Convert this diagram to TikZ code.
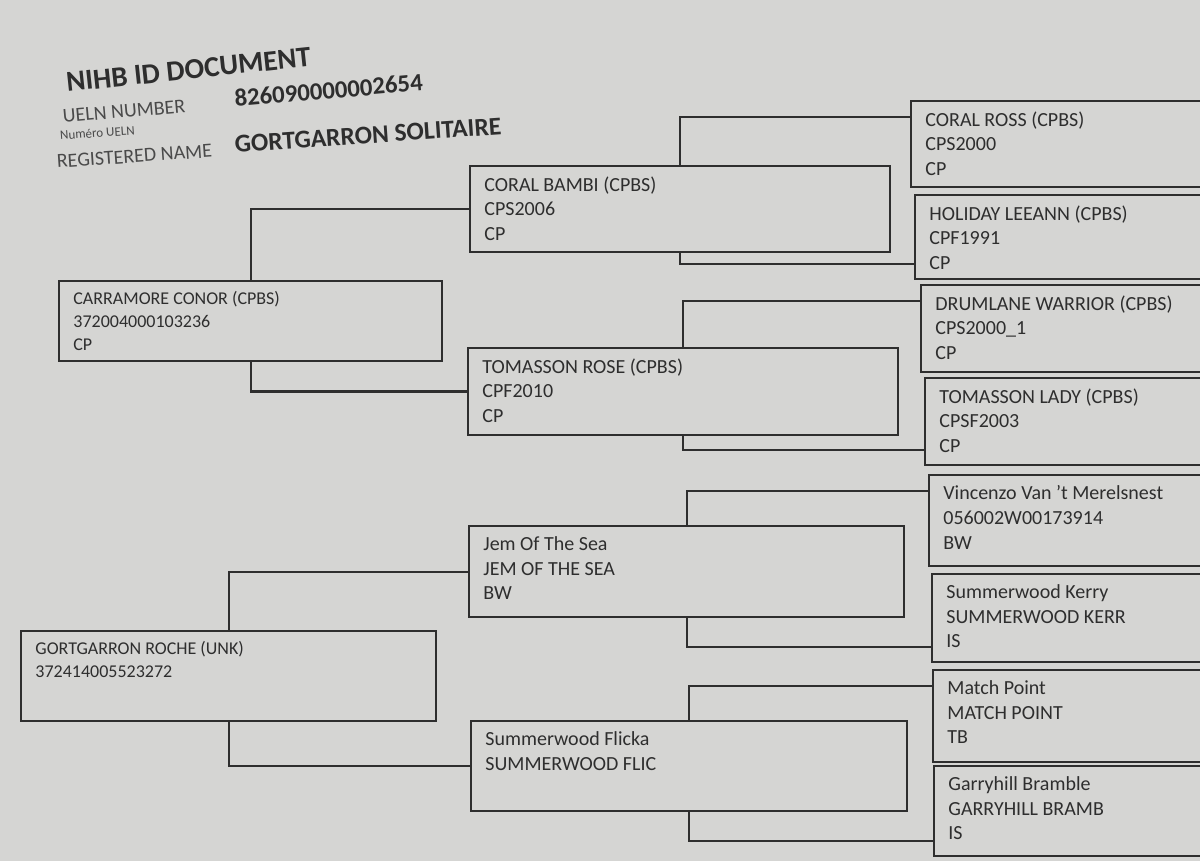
\documentclass[tikz,border=0pt]{standalone}
\usepackage{fontspec}
\setmainfont{Carlito}
\usetikzlibrary{positioning}
\definecolor{paper}{HTML}{D5D5D3}
\definecolor{ink}{HTML}{2E2E2E}
\definecolor{faint}{HTML}{4A4A4A}

\begin{document}
\begin{tikzpicture}[
		x=0.5pt, y=-0.5pt,
		horse/.style={draw=ink, line width=1pt, anchor=north west, inner sep=0pt, outer sep=0pt},
		boxsize/.style 2 args={minimum width=#1*0.5pt, minimum height=#2*0.5pt},
		entry/.style={anchor=north west, align=left, inner xsep=7pt, inner ysep=5pt, text=ink, font=\fontsize{10}{12.4}\selectfont},
		sire/.style={entry, font=\fontsize{9}{11.6}\selectfont},
		head/.style={anchor=base west, inner sep=0pt, text=ink},
		link/.style={draw=ink, line width=1pt},
	]
		\useasboundingbox (0,0) rectangle (1200,861);
		\fill[paper] (0,0) rectangle (1200,861);
		\clip (0,0) rectangle (1200,861);

		\node[head, rotate=6, font=\bfseries\fontsize{14.5}{14.5}\selectfont] (title) at (67,92) {NIHB ID DOCUMENT};
		\node[head, rotate=5, text=faint, font=\fontsize{10}{10}\selectfont] (uelnlbl) at (63,123) {UELN NUMBER};
		\node[head, rotate=5, font=\bfseries\fontsize{12.4}{12.4}\selectfont] (ueln) at (235,107) {826090000002654};
		\node[head, rotate=4, text=faint, font=\fontsize{6.5}{6.5}\selectfont] (numero) at (60,140) {Numéro UELN};
		\node[head, rotate=4, text=faint, font=\fontsize{10}{10}\selectfont] (reglbl) at (57,168) {REGISTERED NAME};
		\node[head, rotate=4, font=\bfseries\fontsize{12.8}{12.8}\selectfont] (regname) at (235,153) {GORTGARRON SOLITAIRE};

		\node[horse, boxsize={383}{80}, label={[sire]north west:CARRAMORE CONOR (CPBS)\\372004000103236\\CP}] (conor) at (59,281) {};
		\node[horse, boxsize={415}{90}, label={[sire]north west:GORTGARRON ROCHE (UNK)\\372414005523272}] (roche) at (21,631) {};

		\node[horse, boxsize={420}{86}, label={[entry]north west:CORAL BAMBI (CPBS)\\CPS2006\\CP}] (bambi) at (470,166) {};
		\node[horse, boxsize={430}{87}, label={[entry]north west:TOMASSON ROSE (CPBS)\\CPF2010\\CP}] (rose) at (468,348) {};
		\node[horse, boxsize={435}{91}, label={[entry]north west:Jem Of The Sea\\JEM OF THE SEA\\BW}] (jem) at (469,526) {};
		\node[horse, boxsize={436}{90}, label={[entry]north west:Summerwood Flicka\\SUMMERWOOD FLIC}] (flicka) at (471,721) {};

		\node[horse, boxsize={300}{86}, label={[entry]north west:CORAL ROSS (CPBS)\\CPS2000\\CP}] (ross) at (911,101) {};
		\node[horse, boxsize={300}{84}, label={[entry]north west:HOLIDAY LEEANN (CPBS)\\CPF1991\\CP}] (leeann) at (915,195) {};
		\node[horse, boxsize={300}{87}, label={[entry]north west:DRUMLANE WARRIOR (CPBS)\\CPS2000\_1\\CP}] (warrior) at (921,285) {};
		\node[horse, boxsize={300}{87}, label={[entry]north west:TOMASSON LADY (CPBS)\\CPSF2003\\CP}] (lady) at (925,378) {};
		\node[horse, boxsize={300}{91}, label={[entry]north west:Vincenzo Van 't Merelsnest\\056002W00173914\\BW}] (vincenzo) at (929,475) {};
		\node[horse, boxsize={300}{88}, label={[entry]north west:Summerwood Kerry\\SUMMERWOOD KERR\\IS}] (kerry) at (932,574) {};
		\node[horse, boxsize={300}{92}, label={[entry]north west:Match Point\\MATCH POINT\\TB}] (matchpt) at (933,670) {};
		\node[horse, boxsize={300}{90}, label={[entry]north west:Garryhill Bramble\\GARRYHILL BRAMB\\IS}] (bramble) at (934,766) {};

		\draw[link] (conor.north) |- (bambi.west);
		\draw[link] (conor.south) |- (rose.west);
		\draw[link] (roche.north) |- (jem.west);
		\draw[link] (roche.south) |- (flicka.west);

		\draw[link] (bambi.north) |- ([yshift=-8pt]ross.north west);
		\draw[link] (bambi.south) |- ([yshift=7.5pt]leeann.south west);
		\draw[link] (rose.north) |- ([yshift=-8pt]warrior.north west);
		\draw[link] (rose.south) |- ([yshift=7.5pt]lady.south west);
		\draw[link] (jem.north) |- ([yshift=-8pt]vincenzo.north west);
		\draw[link] (jem.south) |- ([yshift=7.5pt]kerry.south west);
		\draw[link] (flicka.north) |- ([yshift=-8pt]matchpt.north west);
		\draw[link] (flicka.south) |- ([yshift=7.5pt]bramble.south west);
	\end{tikzpicture}
\end{document}
